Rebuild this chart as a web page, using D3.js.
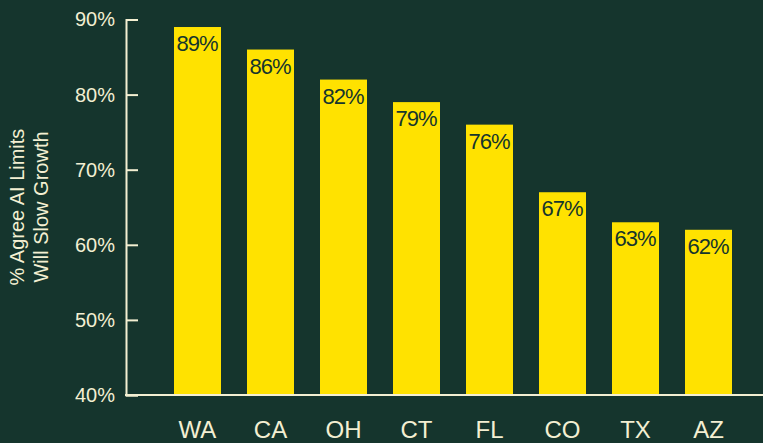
<!DOCTYPE html>
<html>
<head>
<meta charset="utf-8">
<script src="https://cdn.jsdelivr.net/npm/d3@7"></script>
<style>
  html, body { margin: 0; padding: 0; background: #15352d; }
  svg { display: block; }
  text { font-family: "Liberation Sans", Arial, Helvetica, sans-serif; }
</style>
</head>
<body>
<svg id="chart" width="763" height="443"></svg>
<script>
// Share of respondents agreeing that AI limits will slow growth, by state
const states = ["WA", "CA", "OH", "CT", "FL", "CO", "TX", "AZ"];
const agreePct = [89, 86, 82, 79, 76, 67, 63, 62];
const yTicks = [40, 50, 60, 70, 80, 90];
const yTitleLines = ["% Agree AI Limits", "Will Slow Growth"];

const bg = "#15352d";
const barColor = "#ffe200";
const ink = "#f3efd2";

const svg = d3.select("#chart");
svg.append("rect").attr("width", 763).attr("height", 443).attr("fill", bg);

const axisX = 126, baseY = 395;

const x = d3.scaleBand()
  .domain(states)
  .range([161, 745])
  .paddingInner(26 / 73)
  .paddingOuter(13 / 73);

const y = d3.scaleLinear().domain([40, 90]).range([baseY, 19.5]);

// bars
svg.append("g").selectAll("rect")
  .data(states)
  .join("rect")
  .attr("x", d => x(d))
  .attr("y", (d, i) => y(agreePct[i]))
  .attr("width", x.bandwidth())
  .attr("height", (d, i) => baseY - y(agreePct[i]))
  .attr("fill", barColor);

// value labels inside the top of each bar
svg.append("g").selectAll("text")
  .data(states)
  .join("text")
  .attr("x", d => x(d) + x.bandwidth() / 2 - 0.5)
  .attr("y", (d, i) => y(agreePct[i]) + 24)
  .attr("text-anchor", "middle")
  .attr("font-size", 22)
  .attr("letter-spacing", "-1px")
  .attr("fill", bg)
  .text((d, i) => agreePct[i] + "%");

// y axis with inward ticks
const yAxis = d3.axisLeft(y)
  .tickValues(yTicks)
  .tickFormat(d => d + "%")
  .tickSizeInner(-12)
  .tickSizeOuter(-12)
  .tickPadding(11);

const gy = svg.append("g")
  .attr("transform", `translate(${axisX},0)`)
  .call(yAxis);
gy.select(".domain").attr("stroke", ink).attr("stroke-width", 2);
gy.selectAll(".tick line").attr("stroke", ink).attr("stroke-width", 2);
gy.selectAll(".tick text")
  .attr("fill", ink)
  .attr("font-size", 20)
  .attr("font-family", "Liberation Sans, Arial, sans-serif");

// x baseline
svg.append("line")
  .attr("x1", axisX - 1).attr("x2", 763)
  .attr("y1", baseY).attr("y2", baseY)
  .attr("stroke", ink).attr("stroke-width", 2);

// x axis labels
const xAxis = d3.axisBottom(x).tickSize(0).tickPadding(26);
const gx = svg.append("g")
  .attr("transform", `translate(0,${baseY})`)
  .call(xAxis);
gx.select(".domain").remove();
gx.selectAll(".tick text")
  .attr("fill", ink)
  .attr("font-size", 24)
  .attr("font-family", "Liberation Sans, Arial, sans-serif");

// y axis title, two lines, rotated
const title = svg.append("text")
  .attr("transform", "translate(24,207) rotate(-90)")
  .attr("text-anchor", "middle")
  .attr("font-size", 20)
  .attr("fill", ink);
title.selectAll("tspan")
  .data(yTitleLines)
  .join("tspan")
  .attr("x", 0)
  .attr("dy", (d, i) => i === 0 ? 0 : 24)
  .text(d => d);
</script>
</body>
</html>
